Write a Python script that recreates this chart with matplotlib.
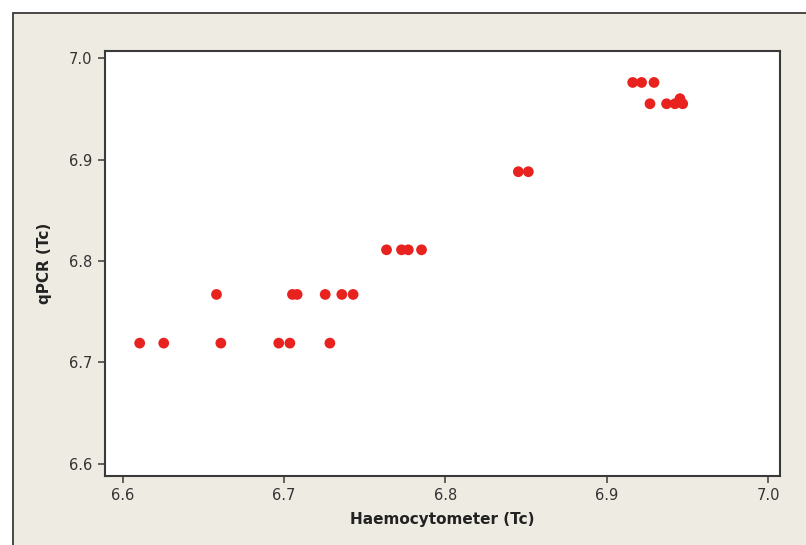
"""Minitab-style scatter: qPCR vs haemocytometer (Tc)."""
import matplotlib
matplotlib.use("Agg")
import matplotlib.pyplot as plt
from matplotlib.patches import Rectangle

# values
haemo_tc = [6.6105, 6.6254, 6.6608, 6.6967, 6.7036, 6.7284,
            6.6581, 6.7052, 6.7081, 6.7255, 6.7358, 6.7428,
            6.7635, 6.7728, 6.7770, 6.7852,
            6.8452, 6.8514,
            6.9161, 6.9216, 6.9293,
            6.9268, 6.9371, 6.9423, 6.9454, 6.9471]
qpcr_tc = [6.719, 6.719, 6.719, 6.719, 6.719, 6.719,
           6.767, 6.767, 6.767, 6.767, 6.767, 6.767,
           6.811, 6.811, 6.811, 6.811,
           6.888, 6.888,
           6.976, 6.976, 6.976,
           6.955, 6.955, 6.955, 6.960, 6.955]
ticks = [6.6, 6.7, 6.8, 6.9, 7.0]

BG = "#EEEBE2"
DOT = "#E8231F"
EDGE = "#3a3a3a"

W, H = 806, 545
fig = plt.figure(figsize=(W / 100, H / 100), dpi=100)
fig.patch.set_facecolor("white")

# outer beige panel with a dark border on the top/left
fig.patches.append(Rectangle((13 / W, -0.1), 1.2, 1.1 - 13 / H,
                             transform=fig.transFigure, facecolor=BG,
                             edgecolor=EDGE, lw=1.3, zorder=-10))

ax = fig.add_axes([105 / W, (H - 476) / H, 675 / W, 425 / H])
ax.set_zorder(5)
ax.set_facecolor("white")
ax.scatter(haemo_tc, qpcr_tc, s=60, color=DOT, edgecolors="none", zorder=3)

ax.set_xlim(6.589, 7.0074)
ax.set_ylim(6.588, 7.007)
ax.set_xticks(ticks)
ax.set_yticks(ticks)
ax.set_xticklabels([f"{t:.1f}" for t in ticks])
ax.set_yticklabels([f"{t:.1f}" for t in ticks])
ax.tick_params(direction="out", length=5, width=1.1, color=EDGE,
               labelsize=10.5, labelcolor="#333333", pad=4)
for sp in ax.spines.values():
    sp.set_color(EDGE)
    sp.set_linewidth(1.5)

ax.set_xlabel("Haemocytometer (Tc)", fontsize=11, fontweight="bold",
              color="#222222", labelpad=6)
ax.set_ylabel("qPCR (Tc)", fontsize=11, fontweight="bold",
              color="#222222", labelpad=12)

fig.savefig("out.png", dpi=100, facecolor=fig.get_facecolor())
